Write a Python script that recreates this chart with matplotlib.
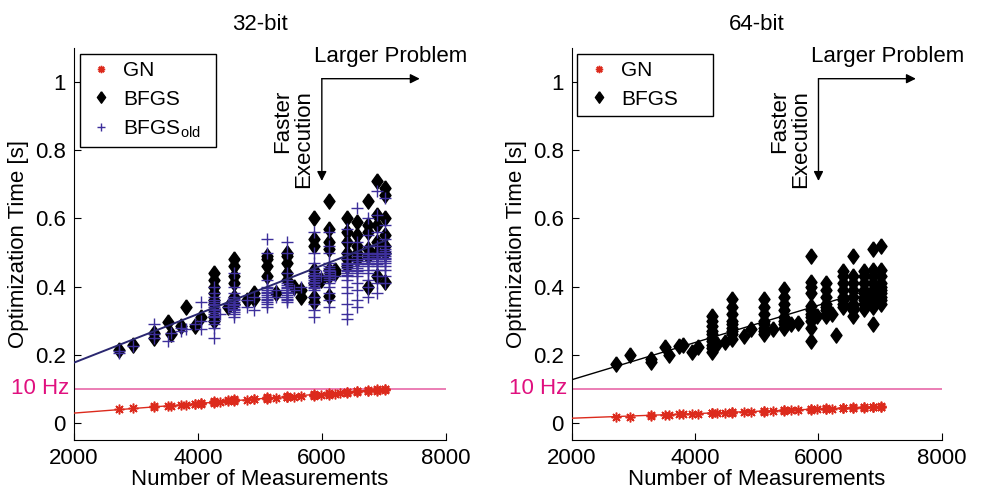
import numpy as np
import matplotlib
matplotlib.use('Agg')
import matplotlib.pyplot as plt

plt.rcParams['font.family'] = ['Liberation Sans', 'DejaVu Sans']
plt.rcParams['mathtext.fontset'] = 'custom'
plt.rcParams['mathtext.rm'] = 'Liberation Sans'

# measurement counts (shared x positions of the clusters)
n_meas = [2720, 2950, 3290, 3510, 3570, 3730, 3810, 3950, 4050, 4265,
          4350, 4480, 4590, 4790, 4900, 5120, 5260, 5440, 5550, 5660,
          5880, 5980, 6115, 6220, 6290, 6400, 6560, 6740, 6885, 7015]

# 32-bit timings [s], one list per measurement count
gn32 = [[0.041], [0.044], [0.047, 0.049], [0.050], [0.051], [0.053], [0.054],
        [0.057, 0.056], [0.058, 0.060, 0.057], [0.060, 0.062, 0.064, 0.061],
        [0.063], [0.064, 0.066], [0.065, 0.067, 0.069, 0.066], [0.068],
        [0.070, 0.069], [0.071, 0.073, 0.075, 0.072], [0.074],
        [0.075, 0.077, 0.079, 0.076], [0.077], [0.078],
        [0.080, 0.082, 0.084, 0.081], [0.082], [0.083, 0.085, 0.087], [0.086],
        [0.087], [0.088, 0.090, 0.092], [0.090, 0.093, 0.095],
        [0.093, 0.095, 0.097], [0.095, 0.097, 0.099], [0.097, 0.099, 0.101]]

bfgs32 = [[0.215], [0.23], [0.25, 0.265], [0.295], [0.26], [0.285], [0.34],
          [0.285], [0.31],
          [0.44, 0.42, 0.40, 0.38, 0.36, 0.35, 0.33, 0.31, 0.30],
          [], [0.34], [0.48, 0.46, 0.43, 0.41, 0.37, 0.35], [0.36],
          [0.38, 0.365], [0.49, 0.48, 0.46, 0.43], [0.38],
          [0.50, 0.49, 0.47, 0.44, 0.42], [0.40], [0.39, 0.37],
          [0.60, 0.54, 0.52, 0.45, 0.43, 0.41, 0.37, 0.355], [0.42],
          [0.65, 0.57, 0.53, 0.51, 0.45, 0.43, 0.373], [0.44, 0.45], [],
          [0.60, 0.56, 0.53, 0.50, 0.48, 0.46],
          [0.59, 0.55, 0.52, 0.50, 0.48],
          [0.65, 0.58, 0.56, 0.51, 0.49, 0.40],
          [0.71, 0.61, 0.58, 0.53, 0.50, 0.43],
          [0.69, 0.67, 0.60, 0.55, 0.52, 0.50, 0.415]]

bfgs_old32 = [[0.205, 0.21], [0.225], [0.29, 0.26, 0.25], [0.24], [0.265],
              [0.27, 0.28], [0.275], [0.29], [0.355, 0.275, 0.30],
              [0.40, 0.38, 0.37, 0.36, 0.355, 0.35, 0.345, 0.34, 0.335, 0.33,
               0.325, 0.32, 0.315, 0.31, 0.30, 0.29, 0.28, 0.25],
              [0.32], [0.34, 0.35],
              [0.44, 0.40, 0.38, 0.37, 0.365, 0.36, 0.355, 0.35, 0.345, 0.34,
               0.335, 0.33, 0.325, 0.32, 0.31],
              [0.34, 0.36], [0.33, 0.37],
              [0.54, 0.50, 0.42, 0.40, 0.395, 0.39, 0.385, 0.38, 0.375, 0.37,
               0.365, 0.36, 0.355, 0.35, 0.34],
              [0.37, 0.39],
              [0.53, 0.50, 0.44, 0.42, 0.41, 0.405, 0.40, 0.395, 0.39, 0.385,
               0.38, 0.375, 0.37, 0.365, 0.36, 0.355],
              [0.39], [0.40],
              [0.56, 0.50, 0.47, 0.45, 0.44, 0.435, 0.43, 0.425, 0.42, 0.415,
               0.41, 0.405, 0.40, 0.395, 0.39, 0.37, 0.35, 0.33, 0.31],
              [0.43],
              [0.56, 0.52, 0.50, 0.47, 0.46, 0.455, 0.45, 0.445, 0.44, 0.435,
               0.43, 0.425, 0.42, 0.41, 0.40, 0.38, 0.36, 0.34],
              [0.43], [],
              [0.57, 0.53, 0.50, 0.48, 0.47, 0.465, 0.46, 0.455, 0.45, 0.445,
               0.44, 0.435, 0.43, 0.42, 0.40, 0.38, 0.35, 0.32, 0.305],
              [0.63, 0.53, 0.50, 0.49, 0.48, 0.475, 0.47, 0.465, 0.46, 0.455,
               0.45, 0.445, 0.44, 0.43, 0.41, 0.39, 0.36, 0.34],
              [0.60, 0.55, 0.52, 0.50, 0.495, 0.49, 0.485, 0.48, 0.475, 0.47,
               0.465, 0.46, 0.45, 0.44, 0.42, 0.40, 0.37],
              [0.68, 0.61, 0.56, 0.52, 0.50, 0.495, 0.49, 0.485, 0.48, 0.475,
               0.47, 0.465, 0.46, 0.45, 0.43, 0.41, 0.38],
              [0.66, 0.58, 0.54, 0.52, 0.51, 0.505, 0.50, 0.495, 0.49, 0.485,
               0.48, 0.475, 0.47, 0.46, 0.45, 0.43, 0.41]]

# 64-bit timings [s]
gn64 = [[0.018], [0.019], [0.021, 0.022], [0.023], [0.023], [0.025], [0.025],
        [0.026], [0.027], [0.028, 0.029, 0.030], [0.029], [0.030],
        [0.030, 0.031, 0.032], [0.032], [0.033], [0.033, 0.035, 0.034],
        [0.035], [0.036, 0.037, 0.038], [0.037], [0.038],
        [0.039, 0.040, 0.041], [0.040], [0.041, 0.042, 0.043], [0.042], [],
        [0.043, 0.044, 0.045], [0.044, 0.045, 0.046], [0.045, 0.046, 0.047],
        [0.046, 0.047, 0.048], [0.046, 0.048, 0.049]]

bfgs64 = [[0.172], [0.20], [0.187, 0.18], [0.222], [0.20], [0.225], [0.228],
          [0.207], [0.222],
          [0.314, 0.30, 0.285, 0.27, 0.26, 0.25, 0.24, 0.23, 0.22, 0.207],
          [0.231], [0.237],
          [0.364, 0.34, 0.32, 0.30, 0.29, 0.28, 0.27, 0.26, 0.246],
          [0.255], [0.275],
          [0.364, 0.34, 0.32, 0.30, 0.29, 0.28, 0.27, 0.26], [0.275],
          [0.394, 0.37, 0.35, 0.33, 0.31, 0.30, 0.29, 0.28], [0.29], [0.293],
          [0.49, 0.415, 0.40, 0.38, 0.344, 0.33, 0.32, 0.31, 0.30, 0.28, 0.24],
          [0.314], [0.41, 0.39, 0.37, 0.35, 0.34, 0.33, 0.32, 0.314], [0.32],
          [0.258], [0.447, 0.43, 0.41, 0.39, 0.37, 0.36, 0.35, 0.34],
          [0.49, 0.43, 0.41, 0.39, 0.37, 0.35, 0.34, 0.33, 0.314],
          [0.447, 0.43, 0.41, 0.39, 0.38, 0.37, 0.36, 0.35, 0.335],
          [0.51, 0.45, 0.43, 0.41, 0.39, 0.38, 0.37, 0.36, 0.35, 0.34, 0.29],
          [0.52, 0.45, 0.43, 0.41, 0.40, 0.39, 0.38, 0.37, 0.36, 0.35]]

trend_n32 = [2000, 7050]
trend_gn32 = [0.029, 0.100]
trend_bfgs32 = [0.177, 0.537]
trend_n64 = [2000, 7020]
trend_gn64 = [0.014, 0.048]
trend_bfgs64 = [0.127, 0.401]

titles = ['32-bit', '64-bit']
ytick_vals = [0, 0.2, 0.4, 0.6, 0.8, 1]
ytick_labels = ['0', '0.2', '0.4', '0.6', '0.8', '1']
xtick_vals = [2000, 4000, 6000, 8000]
rate_limit = 0.1   # 10 Hz

RED = '#dc2a1c'
PURP = '#3d2f9b'
NAVY = '#2a2770'
PINK = '#e868a8'
MAG = '#e0107f'
ASTER = (8, 2, 0)
DIAM = [(0, 1), (0.72, 0), (0, -1), (-0.72, 0), (0, 1)]


def flat(groups):
    xs, ys = [], []
    for n, g in zip(n_meas, groups):
        xs += [n] * len(g)
        ys += list(g)
    return xs, ys


fig = plt.figure(figsize=(9.81, 4.9), dpi=100)
ax1 = fig.add_axes([0.0754, 0.102, 0.379, 0.8])
ax2 = fig.add_axes([0.583, 0.102, 0.377, 0.8])

for ax, title in zip([ax1, ax2], titles):
    ax.set_xlim(2000, 8000)
    ax.set_ylim(-0.05, 1.1)
    ax.spines['top'].set_visible(False)
    ax.spines['right'].set_visible(False)
    ax.set_xticks(xtick_vals)
    ax.set_yticks(ytick_vals)
    ax.set_yticklabels(ytick_labels)
    ax.tick_params(direction='in', length=5, labelsize=16, pad=6)
    ax.set_xlabel('Number of Measurements', fontsize=16, labelpad=0)
    ax.set_ylabel('Optimization Time [s]', fontsize=16, labelpad=4)
    ax.set_title(title, fontsize=16, pad=13)
    ax.axhline(rate_limit, color=PINK, lw=1.2, zorder=1)
    ax.text(1930, rate_limit, '10 Hz', color=MAG, fontsize=16,
            ha='right', va='center')

    # direction arrows
    ax.annotate('', xy=(7580, 1.01), xytext=(6000, 1.01),
                arrowprops=dict(arrowstyle='-|>', lw=1, color='k',
                                mutation_scale=14, shrinkA=0, shrinkB=0))
    ax.annotate('', xy=(6000, 0.71), xytext=(6000, 1.01),
                arrowprops=dict(arrowstyle='-|>', lw=1, color='k',
                                mutation_scale=14, shrinkA=0, shrinkB=0))
    ax.text(5880, 1.075, 'Larger Problem', fontsize=16, ha='left', va='center')
    ax.text(5880, 0.69, 'Faster\nExecution', fontsize=16, rotation=90,
            ha='right', va='bottom', linespacing=1.0)

# 32-bit
x, y = flat(gn32)
ax1.plot(x, y, ls='none', marker=ASTER, ms=7, mew=1.1, color=RED, label='GN')
x, y = flat(bfgs32)
ax1.plot(x, y, ls='none', marker=DIAM, ms=11, color='k', label='BFGS')
x, y = flat(bfgs_old32)
ax1.plot(x, y, ls='none', marker='+', ms=8, mew=1, color=PURP,
         label='BFGS$_{\\mathregular{old}}$')
ax1.plot(trend_n32, trend_gn32, color=RED, lw=1.0, zorder=5)
ax1.plot(trend_n32, trend_bfgs32, color=NAVY, lw=1.4, zorder=5)

# 64-bit
x, y = flat(gn64)
ax2.plot(x, y, ls='none', marker=ASTER, ms=7, mew=1.1, color=RED, label='GN')
x, y = flat(bfgs64)
ax2.plot(x, y, ls='none', marker=DIAM, ms=11, color='k', label='BFGS')
ax2.plot(trend_n64, trend_gn64, color=RED, lw=1.0, zorder=5)
ax2.plot(trend_n64, trend_bfgs64, color='k', lw=1.0, zorder=5)

for ax in [ax1, ax2]:
    leg = ax.legend(loc='upper left', bbox_to_anchor=(0.015, 0.5, 0.367, 0.485),
                    mode='expand', fontsize=15, frameon=True, fancybox=False,
                    edgecolor='k', framealpha=1, borderaxespad=0,
                    handlelength=1.4, handletextpad=0.35, labelspacing=0.45,
                    markerscale=0.75, borderpad=0.35)
    leg.get_frame().set_linewidth(1)

fig.savefig('out.png', dpi=100)
